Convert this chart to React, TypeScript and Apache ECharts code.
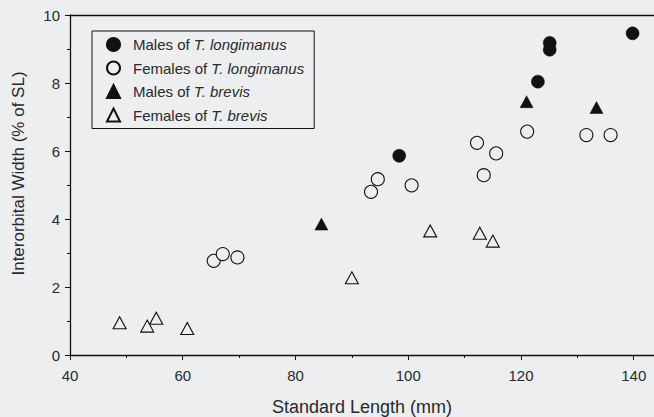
import React, { useEffect, useRef } from "react";
import * as echarts from "echarts";

const xTicks = [40, 60, 80, 100, 120, 140];
const maleLongimanus: number[][] = [
  [98.4, 5.86], [123.0, 8.04], [125.1, 9.18], [125.1, 8.98], [139.8, 9.46],
];
const femaleLongimanus: number[][] = [
  [65.5, 2.77], [67.1, 2.97], [69.7, 2.87], [93.4, 4.8], [94.6, 5.17],
  [100.6, 4.99], [112.2, 6.24], [113.4, 5.29], [115.6, 5.93], [121.1, 6.57],
  [131.6, 6.47], [135.9, 6.47],
];
const maleBrevis: number[][] = [
  [84.6, 3.85], [121.0, 7.45], [133.4, 7.28],
];
const femaleBrevis: number[][] = [
  [48.8, 0.95], [53.7, 0.85], [55.3, 1.08], [60.8, 0.78], [90.0, 2.27],
  [103.9, 3.65], [112.7, 3.58], [115.0, 3.35],
];
const seriesNames = [
  "Males of T. longimanus",
  "Females of T. longimanus",
  "Males of T. brevis",
  "Females of T. brevis",
];
const xName = "Standard Length (mm)";
const yName = "Interorbital Width (% of SL)";

const BG = "#eceef0";
const INK = "#111111";
const TXT = "#2a2a2a";
const FONT = "Liberation Sans, Arial, sans-serif";

export default function App() {
  const ref = useRef<HTMLDivElement>(null);
  useEffect(() => {
    if (!ref.current) return;
    const chart = echarts.init(ref.current, null, { renderer: "svg" });
    const filled = { color: INK, borderColor: INK, borderWidth: 0.5, opacity: 1 };
    const open = { color: BG, borderColor: INK, borderWidth: 1.1, opacity: 1 };
    chart.setOption({
      animation: false,
      backgroundColor: BG,
      textStyle: { fontFamily: FONT },
      grid: { left: 70, right: 0, top: 15, bottom: 62, outerBoundsMode: "none", containLabel: false },
      legend: {
        orient: "vertical",
        left: 92,
        top: 31,
        padding: [6, 10, 6, 14],
        itemWidth: 13,
        itemHeight: 13,
        itemGap: 8.5,
        borderColor: INK,
        borderWidth: 1,
        data: seriesNames,
        formatter: (name: string) => {
          const idx = name.indexOf("T.");
          return name.slice(0, idx) + "{i|" + name.slice(idx) + "}";
        },
        textStyle: {
          fontSize: 15,
          color: TXT,
          fontFamily: FONT,
          padding: [0, 0, 0, 8],
          rich: { i: { fontStyle: "italic", fontSize: 15, color: TXT, fontFamily: FONT } },
        },
      },
      graphic: [
        {
          type: "text",
          x: 18,
          y: 173.5,
          rotation: Math.PI / 2,
          style: {
            text: yName,
            fontSize: 17,
            fontFamily: FONT,
            fill: TXT,
            align: "center",
            verticalAlign: "middle",
          },
        },
      ],
      xAxis: [
        {
          type: "value",
          min: 40,
          max: 143.6,
          interval: 20,
          axisLine: { lineStyle: { color: INK, width: 1.3 } },
          axisTick: { length: 5, lineStyle: { color: INK } },
          minorTick: { show: true, splitNumber: 2, length: 3, lineStyle: { color: INK } },
          splitLine: { show: false },
          axisLabel: {
            color: TXT,
            fontSize: 15,
            margin: 13,
            customValues: xTicks,
          },
          name: xName,
          nameLocation: "middle",
          nameGap: 43,
          nameTextStyle: { fontSize: 18, color: TXT },
        },
        {
          type: "value",
          position: "top",
          min: 40,
          max: 143.6,
          axisLine: { show: true, lineStyle: { color: INK, width: 1.3 } },
          axisTick: { show: false },
          axisLabel: { show: false },
          splitLine: { show: false },
        },
      ],
      yAxis: {
        type: "value",
        min: 0,
        max: 10,
        interval: 2,
        axisLine: { show: true, lineStyle: { color: INK, width: 1.3 } },
        axisTick: { show: true, length: 5, lineStyle: { color: INK } },
        minorTick: { show: true, splitNumber: 2, length: 3, lineStyle: { color: INK } },
        splitLine: { show: false },
        axisLabel: { color: TXT, fontSize: 15, margin: 10 },
      },
      series: [
        { name: seriesNames[0], type: "scatter", symbol: "circle", symbolSize: 13, data: maleLongimanus, itemStyle: filled },
        { name: seriesNames[1], type: "scatter", symbol: "circle", symbolSize: 13, data: femaleLongimanus, itemStyle: open },
        { name: seriesNames[2], type: "scatter", symbol: "triangle", symbolSize: [13, 12], data: maleBrevis, itemStyle: filled },
        { name: seriesNames[3], type: "scatter", symbol: "triangle", symbolSize: [13, 12], data: femaleBrevis, itemStyle: open },
      ],
    });
    return () => chart.dispose();
  }, []);
  return <div ref={ref} style={{ width: 654, height: 417, position: "fixed", left: 0, top: 0 }} />;
}
